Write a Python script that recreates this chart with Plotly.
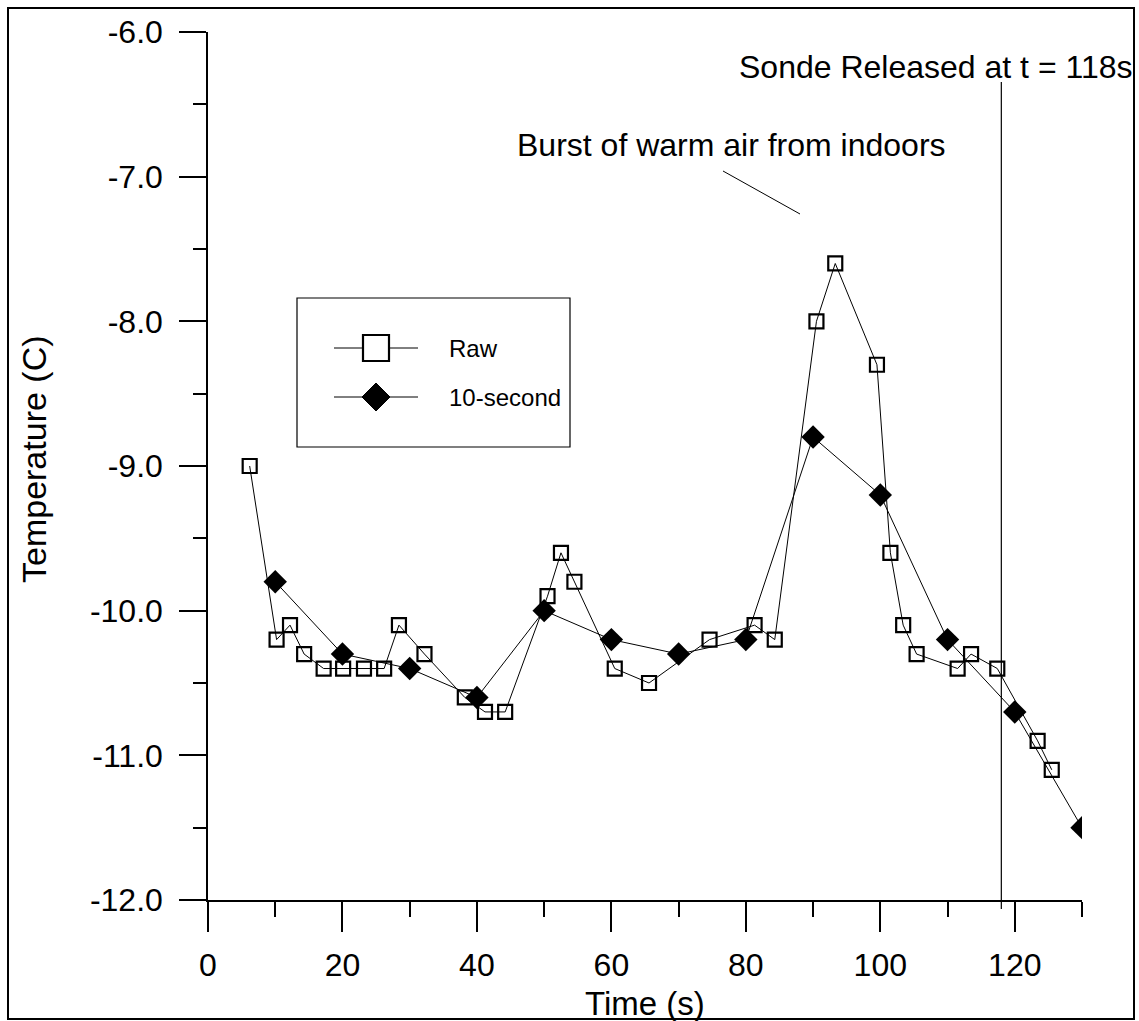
import plotly.graph_objects as go

# ---------------- data ----------------
raw_time = [6.2, 10.2, 12.2, 14.3, 17.2, 20.1, 23.2, 26.2, 28.4, 32.2, 38.2, 41.2, 44.2,
            50.5, 52.5, 54.5, 60.5, 65.6, 74.6, 81.3, 84.3, 90.5, 93.3, 99.5, 101.5,
            103.4, 105.4, 111.5, 113.5, 117.4, 123.4, 125.5]
raw_temp = [-9.0, -10.2, -10.1, -10.3, -10.4, -10.4, -10.4, -10.4, -10.1, -10.3, -10.6, -10.7, -10.7,
            -9.9, -9.6, -9.8, -10.4, -10.5, -10.2, -10.1, -10.2, -8.0, -7.6, -8.3, -9.6,
            -10.1, -10.3, -10.4, -10.3, -10.4, -10.9, -11.1]
avg_time = [10, 20, 30, 40, 50, 60, 70, 80, 90, 100, 110, 120, 130]
avg_temp = [-9.8, -10.3, -10.4, -10.6, -10.0, -10.2, -10.3, -10.2, -8.8, -9.2, -10.2, -10.7, -11.5]
x_ticks = [0, 20, 40, 60, 80, 100, 120]
y_ticks = [-12.0, -11.0, -10.0, -9.0, -8.0, -7.0, -6.0]
RELEASE_T = 118
series_names = ["Raw", "10-second"]

# ---------------- layout helpers (pixel -> paper) ----------------
W, H = 1139, 1021
L, R, T, B = 208, 57, 32, 121
PW, PH = W - L - R, H - T - B


def px(x):
    return (x - L) / PW


def py(y):
    return (H - B - y) / PH


FONT = "Liberation Sans, Arial, sans-serif"

fig = go.Figure()
fig.add_trace(go.Scatter(
    x=raw_time, y=raw_temp, mode="lines+markers", name=series_names[0],
    line=dict(color="black", width=1),
    marker=dict(symbol="square-open", size=14, color="black", line=dict(width=2.2, color="black")),
    showlegend=False))
fig.add_trace(go.Scatter(
    x=avg_time, y=avg_temp, mode="lines+markers", name=series_names[1],
    line=dict(color="black", width=1),
    marker=dict(symbol="diamond", size=18, color="black", line=dict(width=0)),
    showlegend=False))

shapes = []
# release line
shapes.append(dict(type="line", xref="x", yref="paper", x0=RELEASE_T, x1=RELEASE_T,
                   y0=py(909), y1=py(82), line=dict(color="black", width=1.2)))
# annotation pointer line
shapes.append(dict(type="line", xref="paper", yref="paper", x0=px(723), y0=py(171),
                   x1=px(800), y1=py(214), line=dict(color="black", width=1)))
# outer frame
shapes.append(dict(type="rect", xref="paper", yref="paper", x0=px(8), x1=px(1134),
                   y0=py(1019), y1=py(8), line=dict(color="black", width=2)))
# legend box
shapes.append(dict(type="rect", xref="paper", yref="paper", x0=px(297), x1=px(570),
                   y0=py(447), y1=py(298), line=dict(color="black", width=1.2),
                   fillcolor="white", layer="below"))
# legend lines
for yy in (348, 397):
    shapes.append(dict(type="line", xref="paper", yref="paper", x0=px(334), x1=px(418),
                       y0=py(yy), y1=py(yy), line=dict(color="black", width=1)))
# legend square glyph
shapes.append(dict(type="rect", xref="paper", yref="paper", x0=px(363), x1=px(389),
                   y0=py(361), y1=py(335), line=dict(color="black", width=2.2), fillcolor="white"))
# legend diamond glyph
cx, cy, r = 376, 397, 14
shapes.append(dict(type="path", xref="paper", yref="paper",
                   path=f"M{px(cx)},{py(cy - r)} L{px(cx + r)},{py(cy)} L{px(cx)},{py(cy + r)} L{px(cx - r)},{py(cy)} Z",
                   fillcolor="black", line=dict(color="black", width=1)))

annotations = [
    dict(text=series_names[0], xref="paper", yref="paper", x=px(447), y=py(348),
         xanchor="left", yanchor="middle", showarrow=False, font=dict(family=FONT, size=24, color="black")),
    dict(text=series_names[1], xref="paper", yref="paper", x=px(447), y=py(397),
         xanchor="left", yanchor="middle", showarrow=False, font=dict(family=FONT, size=24, color="black")),
    dict(text="Sonde Released at t = 118s", xref="paper", yref="paper", x=px(1134), y=py(67),
         xanchor="right", yanchor="middle", showarrow=False, font=dict(family=FONT, size=32, color="black")),
    dict(text="Burst of warm air from indoors", xref="paper", yref="paper", x=px(948), y=py(145),
         xanchor="right", yanchor="middle", showarrow=False, font=dict(family=FONT, size=32, color="black")),
    dict(text="Time (s)", xref="paper", yref="paper", x=0.5, y=py(1003),
         xanchor="center", yanchor="middle", showarrow=False, font=dict(family=FONT, size=33, color="black")),
    dict(text="Temperature (C)", xref="paper", yref="paper", x=px(34), y=py(459), textangle=-90,
         xanchor="center", yanchor="middle", showarrow=False, font=dict(family=FONT, size=34, color="black")),
]

fig.update_layout(
    width=W, height=H, margin=dict(l=L, r=R, t=T, b=B),
    paper_bgcolor="white", plot_bgcolor="white",
    shapes=shapes, annotations=annotations, showlegend=False,
    font=dict(family=FONT, color="black"),
)
fig.update_xaxes(range=[0, 130], tickvals=x_ticks, ticktext=[str(v) for v in x_ticks],
                 showline=True, linecolor="black", linewidth=1.5, showgrid=False, zeroline=False,
                 ticks="outside", ticklen=30, tickwidth=1.5, tickcolor="black",
                 ticklabelstandoff=6, tickfont=dict(family=FONT, size=32, color="black"),
                 minor=dict(dtick=10, tick0=0, ticks="outside", ticklen=15, tickwidth=1.5, tickcolor="black"))
fig.update_yaxes(range=[-12, -6], tickvals=y_ticks, ticktext=[f"{v:.1f}" for v in y_ticks],
                 showline=True, linecolor="black", linewidth=1.5, showgrid=False, zeroline=False,
                 ticks="outside", ticklen=27, tickwidth=1.5, tickcolor="black",
                 ticklabelstandoff=10, tickfont=dict(family=FONT, size=32, color="black"),
                 minor=dict(dtick=0.5, tick0=-12, ticks="outside", ticklen=13, tickwidth=1.5, tickcolor="black"))

fig.write_html("out.html")
